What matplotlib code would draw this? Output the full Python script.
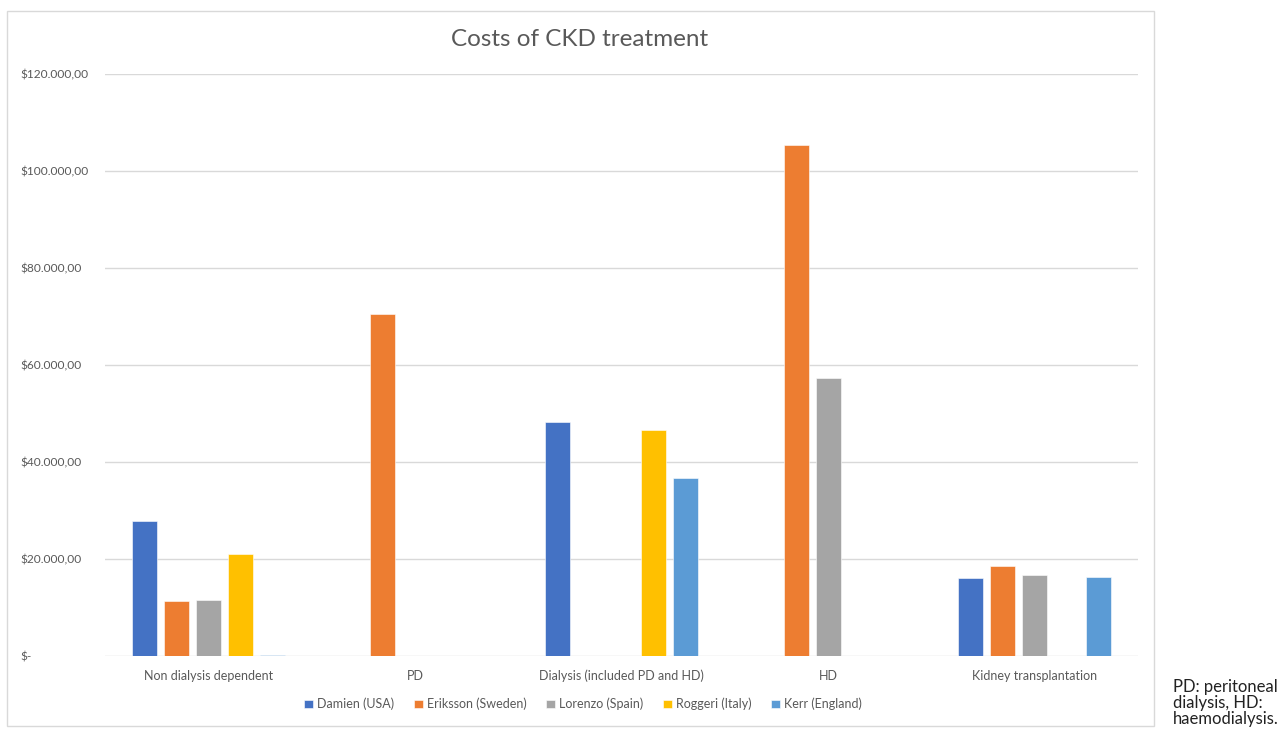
import numpy as np
import matplotlib.pyplot as plt
from matplotlib.patches import Rectangle

CATEGORIES = ["Non dialysis dependent", "PD", "Dialysis (included PD and HD)",
              "HD", "Kidney transplantation"]
SERIES = ["Damien (USA)", "Eriksson (Sweden)", "Lorenzo (Spain)",
          "Roggeri (Italy)", "Kerr (England)"]
nan = np.nan
DAMIEN = [27900, nan, 48200, nan, 16100]
ERIKSSON = [11400, 70500, nan, 105300, 18600]
LORENZO = [11600, nan, nan, 57400, 16800]
ROGGERI = [21100, nan, 46700, nan, nan]
KERR = [300, nan, 36600, nan, 16300]
VALUES = [DAMIEN, ERIKSSON, LORENZO, ROGGERI, KERR]
COLORS = ["#4472C4", "#ED7D31", "#A5A5A5", "#FFC000", "#5B9BD5"]
YTICKS = [0, 20000, 40000, 60000, 80000, 100000, 120000]

FONT = ["Lato", "DejaVu Sans"]
GREY = "#595959"


def money(v):
    if v == 0:
        return "$-"
    s = f"{v:,.2f}"
    s = s.replace(",", "X").replace(".", ",").replace("X", ".")
    return "$" + s


def main():
    plt.rcParams["font.family"] = FONT
    W, H = 1277, 729
    fig = plt.figure(figsize=(W / 100, H / 100), dpi=100)

    # chart area border
    fig.patches.append(Rectangle((7 / W, 1 - 726 / H), (1154 - 7) / W, (726 - 11) / H,
                                 transform=fig.transFigure, fill=False,
                                 edgecolor="#d9d9d9", linewidth=1))

    ax = fig.add_axes([105 / W, 1 - 656 / H, (1138 - 105) / W, (656 - 74) / H])
    x = np.arange(len(CATEGORIES))
    pitch = 32 / 206.6
    width = 25 / 206.6
    for i, (name, vals, c) in enumerate(zip(SERIES, VALUES, COLORS)):
        ax.bar(x + (i - 2) * pitch, vals, width=width, color=c, label=name,
               edgecolor="white", linewidth=0.4, zorder=3)

    ax.set_xlim(-0.5, len(CATEGORIES) - 0.5)
    ax.set_ylim(0, 120000)
    ax.set_yticks(YTICKS, [money(v) for v in YTICKS])
    ax.set_xticks(x, CATEGORIES)
    ax.grid(axis="y", color="#d9d9d9", linewidth=1, zorder=0)
    for s in ax.spines.values():
        s.set_visible(False)
    ax.tick_params(length=0, colors=GREY, labelsize=8.6)
    ax.tick_params(axis="x", pad=10, labelsize=9)
    ax.tick_params(axis="y", pad=61)
    for lbl in ax.get_yticklabels():
        lbl.set_horizontalalignment("left")

    fig.text(580 / W, 1 - 40 / H, "Costs of CKD treatment", ha="center",
             va="center", fontsize=17.5, color=GREY)

    fig.legend(loc="center", bbox_to_anchor=(583 / W, 1 - 704 / H), ncol=5,
               frameon=False, fontsize=9, handlelength=0.7, handleheight=0.7,
               handletextpad=0.3, columnspacing=1.6, labelcolor=GREY)

    # side note, partly cut off by the bottom edge as in the source
    fig.text(1173 / W, 1 - 679 / H, "PD: peritoneal\ndialysis, HD:\nhaemodialysis.",
             ha="left", va="top", fontsize=12, color="#222222", linespacing=1.0)

    fig.savefig("out.png", dpi=100, facecolor="white")


if __name__ == "__main__":
    main()
